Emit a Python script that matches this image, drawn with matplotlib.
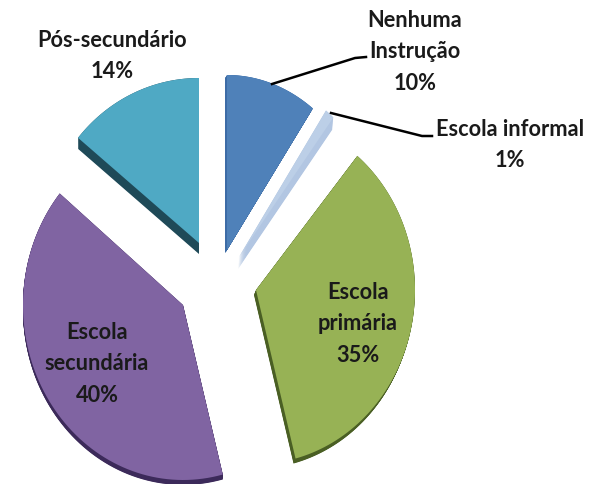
import numpy as np
import matplotlib
matplotlib.use("Agg")
import matplotlib.pyplot as plt

W, H = 598, 484

labels = ["Nenhuma\nInstrução\n10%", "Escola informal\n1%", "Escola\nprimária\n35%",
          "Escola\nsecundária\n40%", "Pós-secundário\n14%"]
values = [10, 1, 35, 40, 14]

# one look per slice: the picture is in perspective, so each has its own radii
colors = ["#4f81b9", "#bccfe7", "#97b255", "#8064a2", "#4fa9c4"]
dark = ["#3d6ca6", "#b2c6e2", "#4a5f24", "#3c2a5a", "#1f4a58"]
apex_x = [227, 239, 256, 183, 199]
apex_y = [250, 257, 290, 305, 243]
rad_x = [146, 148, 159, 160, 157]
rad_y = [175, 181, 174, 175, 165]
side_dx = [-2, -1, -2, 0, 0]
side_dy = [3, 12, 5, 5, 11]

label_x = [415, 510, 358, 97, 112]
label_y = [52, 145, 324, 364, 56]

plt.rcParams['font.family'] = ['Lato', 'DejaVu Sans']
fig = plt.figure(figsize=(W / 100, H / 100), dpi=100)
ax = fig.add_axes([0, 0, 1, 1])
ax.set_xlim(0, W)
ax.set_ylim(H, 0)
ax.axis("off")

start = 0
for i, v in enumerate(values):
    end = start + v * 3.6
    t = np.radians(np.linspace(start, end, 80))
    xs = np.r_[apex_x[i], apex_x[i] + rad_x[i] * np.sin(t), apex_x[i]]
    ys = np.r_[apex_y[i], apex_y[i] - rad_y[i] * np.cos(t), apex_y[i]]
    for k in np.linspace(0, 1, 13):
        ax.fill(xs + k * side_dx[i], ys + k * side_dy[i], color=dark[i], lw=0, zorder=2)
    ax.fill(xs, ys, color=colors[i], lw=0, zorder=3)
    start = end

ax.plot([272, 355, 366], [84, 58, 57], color="black", lw=1.8, zorder=4)
ax.plot([331, 422, 432], [113, 136, 136], color="black", lw=1.8, zorder=4)

for s, x, y in zip(labels, label_x, label_y):
    ax.text(x, y, s, ha="center", va="center", fontsize=15.7, fontweight="bold",
            color="#1a1a1a", linespacing=1.6, zorder=5)

fig.savefig("out.png", dpi=100)
